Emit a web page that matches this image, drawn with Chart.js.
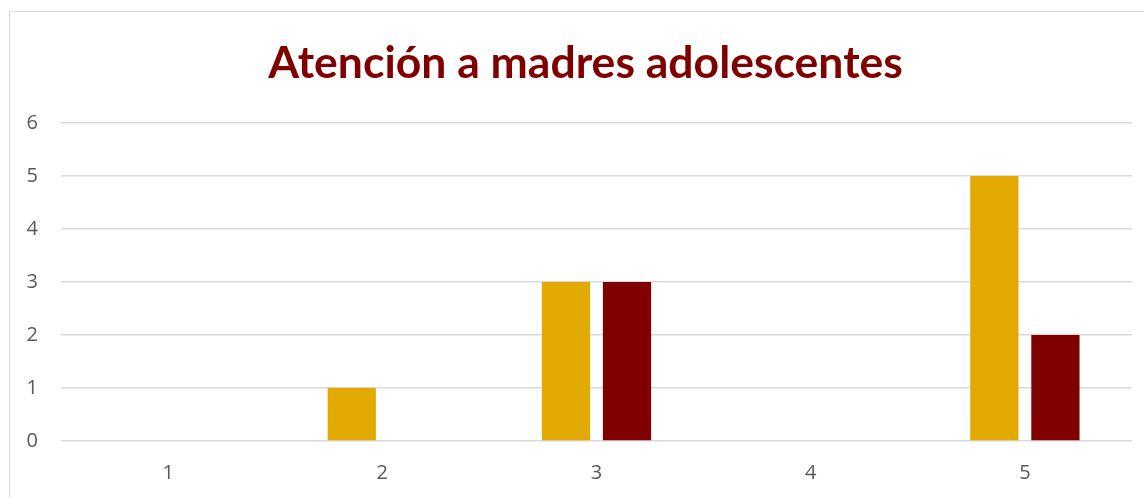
<!DOCTYPE html>
<html>
<head>
<meta charset="utf-8">
<script src="https://cdn.jsdelivr.net/npm/chart.js@4"></script>
<style>
    html, body { margin: 0; padding: 0; background: #fff; overflow: hidden; }
    #frame {
        position: absolute; left: 9px; top: 11px; width: 1160px; height: 520px;
        border: 1px solid #d9d9d9; box-sizing: border-box;
    }
    #wrap { position: absolute; left: 0; top: 0; width: 1144px; height: 497px; }
</style>
</head>
<body>
<div id="frame"></div>
<div id="wrap"><canvas id="chart"></canvas></div>
<script>
// Chart data
const categories = ['1', '2', '3', '4', '5'];
const seriesA = [0, 1, 3, 0, 5];
const seriesB = [0, 0, 3, 0, 2];
const yTicks = [0, 1, 2, 3, 4, 5, 6];

const titleText = 'Atención a madres adolescentes';

// Centre the title on the framed area rather than the whole canvas
const titleShift = {
    id: 'titleShift',
    afterLayout(chart) {
        if (chart.titleBlock) chart.titleBlock.left = 39;
    }
};

new Chart(document.getElementById('chart').getContext('2d'), {
    type: 'bar',
    data: {
        labels: categories,
        datasets: [
            { label: 'Serie 1', data: seriesA, backgroundColor: '#e2aa00' },
            { label: 'Serie 2', data: seriesB, backgroundColor: '#800000' }
        ]
    },
    options: {
        responsive: true,
        maintainAspectRatio: false,
        animation: false,
        categoryPercentage: 0.57,
        barPercentage: 0.79,
        layout: { padding: { top: 0, right: 12, bottom: 0, left: 0 } },
        plugins: {
            legend: { display: false },
            tooltip: { enabled: false },
            title: {
                display: true,
                text: titleText,
                color: '#800000',
                font: { family: 'Lato', size: 44.5, weight: 'bold', lineHeight: 1.2 },
                padding: { top: 37, bottom: 32.6 }
            }
        },
        scales: {
            x: {
                grid: { display: false },
                border: { display: false },
                ticks: {
                    color: '#595959',
                    font: { family: 'Open Sans', size: 20 },
                    padding: 12
                },
                afterFit: scale => { scale.height = 56; }
            },
            y: {
                min: 0,
                max: 6,
                afterBuildTicks: scale => { scale.ticks = yTicks.map(v => ({ value: v })); },
                grid: { color: '#d9d9d9', lineWidth: 1.5, drawTicks: false },
                border: { display: false },
                ticks: {
                    color: '#595959',
                    font: { family: 'Open Sans', size: 20 },
                    padding: 23
                },
                afterFit: scale => { scale.width = 61; }
            }
        }
    },
    plugins: [titleShift]
});
</script>
</body>
</html>
